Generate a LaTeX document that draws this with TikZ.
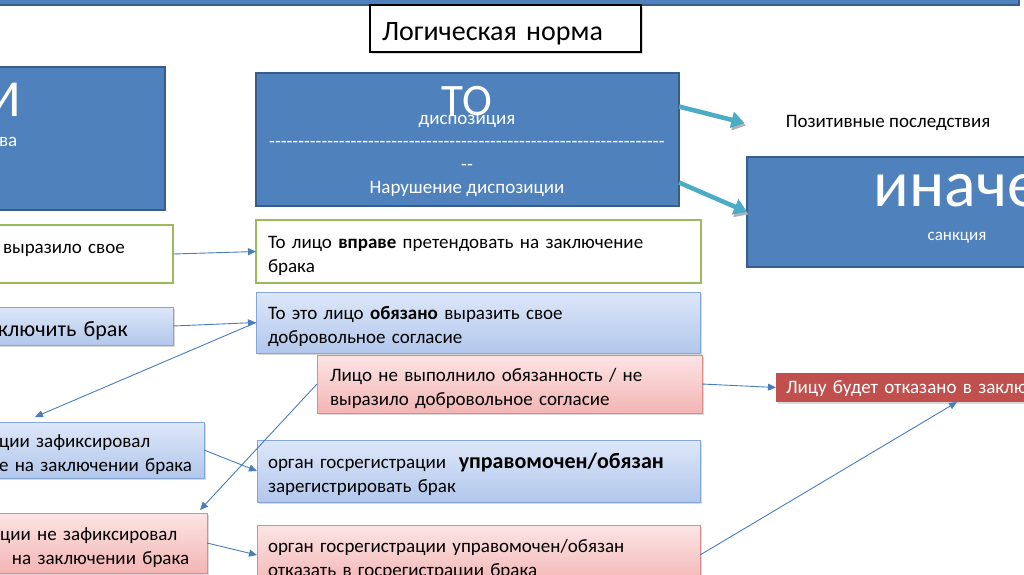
\documentclass[tikz,border=0pt]{standalone}
\usepackage{fontspec}
\setmainfont{Carlito}
\usetikzlibrary{arrows.meta,positioning,shadows}

\definecolor{dkblue}{HTML}{4F81BD}
\definecolor{dkline}{HTML}{385D8A}
\definecolor{grline}{HTML}{9BBB59}
\definecolor{btop}{HTML}{DDE7F8}
\definecolor{bbot}{HTML}{B2C7EC}
\definecolor{bline}{HTML}{86A6D8}
\definecolor{ptop}{HTML}{FCE5E5}
\definecolor{pbot}{HTML}{F3B5B4}
\definecolor{pline}{HTML}{DB8C8A}
\definecolor{dkred}{HTML}{C0504D}
\definecolor{arrblue}{HTML}{4A7EBB}
\definecolor{arrcyan}{HTML}{4BACC6}

\newcommand{\dashrow}{\foreach \k in {1,...,68}{-\kern0pt}}

\begin{document}
\begin{tikzpicture}[
  x=1pt, y=-1pt, outer sep=0pt,
  txt/.style={font=\fontsize{19}{24}\selectfont},
  shad/.style={drop shadow={shadow xshift=1.5pt, shadow yshift=-2pt, opacity=.3}},
  lift/.style={execute at begin node={\rule{0pt}{1.16em}}},
  dbox/.style={draw=dkline, fill=dkblue, line width=1.6pt, text=white, anchor=north west},
  gbox/.style={txt, lift, draw=grline, fill=white, line width=2.4pt, align=left, anchor=north west},
  bbox/.style={txt, lift, draw=bline, top color=btop, bottom color=bbot, line width=0.9pt, align=left, anchor=north west, shad},
  pbox/.style={txt, lift, draw=pline, top color=ptop, bottom color=pbot, line width=0.9pt, align=left, anchor=north west, shad},
  lnk/.style={-{Triangle[length=8pt,width=7pt]}, line width=0.9pt, arrblue},
  bigarr/.style={-{Triangle[length=13pt,width=16pt]}, line width=4.5pt, arrcyan,
    preaction={draw=black!30, transform canvas={shift={(1.5pt,-2.5pt)}}}},
]
\useasboundingbox (0,0) rectangle (1024,574);
\clip (0,0) rectangle (1024,574);
% ---------------- title ----------------
\draw[dbox] (-5,-10) rectangle (1019,5);
\node[draw=black, line width=2pt, fill=white, anchor=north west, shad,
      minimum width=271, minimum height=47, inner xsep=12pt, text width=247pt, align=left,
      text height=25pt, text depth=2pt,
      font=\fontsize{28}{32}\selectfont] (title) at (370,5) {Логическая норма};
% ---------------- top row ----------------
\node[dbox, minimum width=177, minimum height=143] (esli) at (-12,67) {};
\node[text=white, font=\fontsize{52}{52}\selectfont] (eslit) at (4,100) {И};
\node[txt, text=white, anchor=west, inner sep=0pt] (eslid) at (-1,142) {ва};

\node[dbox, minimum width=423, minimum height=133] (to) at (256,73) {};
\node[text=white, font=\fontsize{45}{45}\selectfont] (tot) at (467,101) {ТО};
\node[txt, text=white, align=center, font=\fontsize{19}{23}\selectfont] (todisp) at (467,156)
     {диспозиция\\\dashrow\\-\kern0pt-\\Нарушение диспозиции};

\node[txt] (pos) at (888,123) {Позитивные последствия};

\node[dbox, minimum width=423, minimum height=110] (ince) at (747,157) {};
\node[text=white, font=\fontsize{66}{66}\selectfont] (incet) at (957,191) {иначе};
\node[text=white, font=\fontsize{17}{20}\selectfont] (inced) at (957,238) {санкция};
% ---------------- rows ----------------
\node[gbox, minimum width=185, minimum height=58, inner xsep=15pt, text width=155pt] (vyraz) at (-12,225)
     {выразило свое\\\mbox{}};
\node[gbox, minimum width=445, minimum height=63, inner xsep=12pt, text width=421pt] (vprave) at (256,220)
     {То лицо \textbf{вправе} претендовать на заключение\\брака};

\node[bbox, minimum width=185, minimum height=38, inner xsep=10pt, text width=165pt,
      font=\fontsize{22}{26}\selectfont] (zakl) at (-12,307) {ключить брак};
\node[bbox, minimum width=444, minimum height=61, inner xsep=12pt, text width=420pt] (obyaz) at (256,292)
     {То это лицо \textbf{обязано} выразить свое\\добровольное согласие};

\node[pbox, minimum width=385, minimum height=58, inner xsep=13pt, text width=359pt] (nevyp) at (317,355)
     {Лицо не выполнило обязанность / не\\выразило добровольное согласие};
\node[txt, fill=dkred, text=white, anchor=north west, shad, minimum width=362, minimum height=29,
      inner xsep=10pt, text width=342pt, align=left, text height=15pt, text depth=3pt] (otkaz) at (776,373)
     {Лицу будет отказано в заключ};

\node[bbox, minimum width=216, minimum height=56, inner xsep=11pt, text width=194pt] (zafiks) at (-12,422)
     {ции зафиксировал\\е на заключении брака};
\node[bbox, minimum width=443, minimum height=62, inner xsep=11pt, text width=421pt] (upr) at (257,440)
     {орган госрегистрации~~{\fontsize{22}{24}\selectfont\textbf{управомочен/обязан}}\\зарегистрировать брак};

\node[pbox, minimum width=219, minimum height=60, inner xsep=12pt, text width=195pt] (redleft) at (-12,513)
     {ции не зафиксировал\\\hspace*{12pt}на заключении брака};
\node[pbox, minimum width=443, minimum height=60, inner xsep=11pt, text width=421pt] (otk2) at (257,525)
     {орган госрегистрации управомочен/обязан\\отказать в госрегистрации брака};
% ---------------- connectors ----------------
\draw[bigarr] ([yshift=33pt]to.east) -- ([xshift=-38pt]pos.west);
\draw[bigarr] ([yshift=-43pt]to.east) -- (ince.west);
\draw[lnk] (vyraz.east) -- (vprave.west);
\draw[lnk] (zakl.east) -- (obyaz.west);
\draw[lnk] (obyaz.west) -- ([xshift=47pt,yshift=5pt]zafiks.north west);
\draw[lnk] (nevyp.west) -- ([xshift=-7pt,yshift=3pt]redleft.north east);
\draw[lnk] (nevyp.east) -- (otkaz.west);
\draw[lnk] (zafiks.east) -- (upr.west);
\draw[lnk] (redleft.east) -- (otk2.west);
\draw[lnk] (otk2.east) -- (otkaz.south);
\end{tikzpicture}
\end{document}
